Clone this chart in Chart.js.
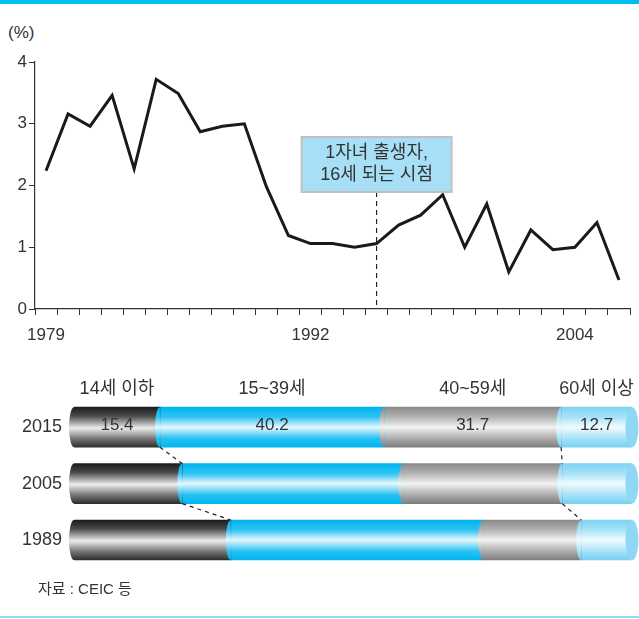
<!DOCTYPE html>
<html>
<head>
<meta charset="utf-8">
<script src="https://cdn.jsdelivr.net/npm/chart.js@4.4.0/dist/chart.umd.min.js"></script>
<style>
  html, body { margin: 0; padding: 0; background: #fff; }
  #page { position: relative; width: 639px; height: 619px; overflow: hidden; }
  #topbar { position: absolute; left: 0; top: 0; width: 639px; height: 4px; background: #00bef2; }
  #bottomline { position: absolute; left: 0; top: 616px; width: 639px; height: 2px; background: #93dcf5; }
  #unit { position: absolute; left: 8px; top: 23px; font: 17px "Liberation Sans", "Noto Sans CJK KR", sans-serif; color: #333; }
  #source { position: absolute; left: 38px; top: 577px; font: 15px "Liberation Sans", "Noto Sans CJK KR", sans-serif; color: #333; }
  #lineChart { position: absolute; left: 0; top: 0; }
  #barChart { position: absolute; left: 0; top: 360px; }
</style>
</head>
<body>
<div id="page">
  <div id="topbar"></div>
  <div id="unit">(%)</div>
  <canvas id="lineChart" width="639" height="350"></canvas>
  <canvas id="barChart" width="639" height="231"></canvas>
  <div id="source">자료 : CEIC 등</div>
  <div id="bottomline"></div>
</div>

<script>
const FONT = '"Liberation Sans", "Noto Sans CJK KR", sans-serif';
const TEXT = '#333';

// line chart data
const xLabels = ['1979', '', '', '', '', '', '', '', '', '', '', '', '1992', '', '', '',
  '', '', '', '', '', '', '', '', '2004', '', ''];
const growthRate = [2.24, 3.16, 2.96, 3.46, 2.27, 3.72, 3.49, 2.87, 2.96, 3.00, 1.98, 1.19,
  1.06, 1.06, 1.00, 1.06, 1.36, 1.52, 1.85, 1.00, 1.70, 0.60, 1.28, 0.96, 1.00, 1.40, 0.47];
const yTicks = [0, 1, 2, 3, 4];
const markerIndex = 15;
const noteLines = ['1자녀 출생자,', '16세 되는 시점'];

// bar chart data
const periods = ['2015', '2005', '1989'];
const ageGroups = ['14세 이하', '15~39세', '40~59세', '60세 이상'];
const share0to14 = [15.4, 19.4, 28.1];
const share15to39 = [40.2, 39.6, 45.2];
const share40to59 = [31.7, 28.5, 17.6];
const share60plus = [12.7, 12.5, 9.1];

/* marker line + note box */
const markerPlugin = {
  id: 'marker',
  afterDatasetsDraw(chart) {
    const { ctx, scales: { x, y } } = chart;
    const px = x.getPixelForValue(markerIndex);
    const boxW = 150, boxTop = 137, boxH = 55;
    ctx.save();
    ctx.strokeStyle = '#222';
    ctx.lineWidth = 1.2;
    ctx.setLineDash([5, 4]);
    ctx.beginPath();
    ctx.moveTo(px, boxTop + boxH);
    ctx.lineTo(px, y.getPixelForValue(0));
    ctx.stroke();
    ctx.setLineDash([]);
    ctx.fillStyle = '#a7e0f6';
    ctx.fillRect(px - boxW / 2, boxTop, boxW, boxH);
    ctx.strokeStyle = '#c0c0c0';
    ctx.lineWidth = 2;
    ctx.strokeRect(px - boxW / 2, boxTop, boxW, boxH);
    ctx.fillStyle = TEXT;
    ctx.font = '18px ' + FONT;
    ctx.textAlign = 'center';
    ctx.textBaseline = 'middle';
    noteLines.forEach((t, i) => ctx.fillText(t, px, boxTop + 16 + i * 22));
    ctx.restore();
  }
};

new Chart(document.getElementById('lineChart'), {
  type: 'line',
  data: {
    labels: xLabels,
    datasets: [{
      data: growthRate,
      borderColor: '#1a1a1a',
      borderWidth: 3,
      pointRadius: 0,
      tension: 0,
      fill: false
    }]
  },
  options: {
    responsive: false,
    animation: false,
    layout: { padding: { top: 62, right: 9, left: 0, bottom: 0 } },
    plugins: { legend: { display: false }, tooltip: { enabled: false } },
    scales: {
      x: {
        offset: true,
        grid: { offset: true, drawOnChartArea: false, tickLength: 6, color: '#333', lineWidth: 1 },
        border: { color: '#333', width: 1.2 },
        ticks: { autoSkip: false, maxRotation: 0, padding: 10, color: TEXT, font: { family: FONT, size: 17 } },
        afterFit(s) { s.height = 41; }
      },
      y: {
        min: 0, max: 4,
        afterBuildTicks(s) { s.ticks = yTicks.map(v => ({ value: v })); },
        grid: { drawOnChartArea: false, tickLength: 6, color: '#333', lineWidth: 1 },
        border: { color: '#333', width: 1.2 },
        ticks: { padding: 2, color: TEXT, font: { family: FONT, size: 17 } },
        afterFit(s) { s.width = 35; }
      }
    }
  },
  plugins: [markerPlugin]
});

/* cylinder look for the stacked bars */
function cylinder(stops) {
  return (c) => {
    const ch = c.chart;
    const ys = ch.scales.y;
    if (!ch.chartArea || !ys) return stops[0][1];
    const yc = ys.getPixelForValue(c.dataIndex);
    const g = ch.ctx.createLinearGradient(0, yc - 20, 0, yc + 20);
    stops.forEach(([o, col]) => g.addColorStop(o, col));
    return g;
  };
}

const darkStops = [[0, '#1c1c1c'], [0.22, '#4a4a4a'], [0.52, '#ececec'], [0.8, '#707070'], [1, '#2e2e2e']];
const blueStops = [[0, '#00b4ee'], [0.25, '#2fc4f3'], [0.5, '#e6f8fe'], [0.78, '#28c2f2'], [1, '#00b6ef']];
const grayStops = [[0, '#8a8a8a'], [0.25, '#b4b4b4'], [0.5, '#f2f2f2'], [0.8, '#a8a8a8'], [1, '#7e7e7e']];
const lightStops = [[0, '#7dd2f4'], [0.25, '#a8e2f8'], [0.5, '#f0fbff'], [0.8, '#a2e0f8'], [1, '#78d0f3']];

const cylinderPlugin = {
  id: 'cylinder',
  afterDatasetsDraw(chart) {
    const { ctx } = chart;
    const metas = chart.data.datasets.map((d, i) => chart.getDatasetMeta(i));
    const rx = 5;
    ctx.save();
    // rounded left edges
    metas.forEach(meta => {
      meta.data.forEach(el => {
        const h = el.height / 2;
        ctx.fillStyle = el.options.backgroundColor;
        ctx.beginPath();
        ctx.ellipse(el.base, el.y, rx, h, 0, Math.PI / 2, Math.PI * 1.5);
        ctx.fill();
      });
    });
    // end faces
    metas[metas.length - 1].data.forEach(el => {
      ctx.fillStyle = '#8fd7f4';
      ctx.beginPath();
      ctx.ellipse(el.x, el.y, rx + 1.5, el.height / 2, 0, 0, Math.PI * 2);
      ctx.fill();
    });
    // dashed connectors
    ctx.strokeStyle = '#222';
    ctx.lineWidth = 1.2;
    ctx.setLineDash([4, 4]);
    [0, 2].forEach(k => {
      const els = metas[k].data;
      for (let i = 0; i < els.length - 1; i++) {
        ctx.beginPath();
        ctx.moveTo(els[i].x, els[i].y + els[i].height / 2);
        ctx.lineTo(els[i + 1].x, els[i + 1].y - els[i + 1].height / 2);
        ctx.stroke();
      }
    });
    ctx.setLineDash([]);
    // values on first row and group names above it
    ctx.fillStyle = TEXT;
    ctx.textAlign = 'center';
    ctx.textBaseline = 'middle';
    metas.forEach((meta, d) => {
      const el = meta.data[0];
      const cx = (el.base + el.x) / 2;
      ctx.font = '17px ' + FONT;
      ctx.fillText(chart.data.datasets[d].data[0].toFixed(1), cx, el.y - 2);
      ctx.font = '18px ' + FONT;
      ctx.fillText(ageGroups[d], cx, el.y - el.height / 2 - 18);
    });
    ctx.restore();
  }
};

new Chart(document.getElementById('barChart'), {
  type: 'bar',
  data: {
    labels: periods,
    datasets: [
      { data: share0to14, backgroundColor: cylinder(darkStops) },
      { data: share15to39, backgroundColor: cylinder(blueStops) },
      { data: share40to59, backgroundColor: cylinder(grayStops) },
      { data: share60plus, backgroundColor: cylinder(lightStops) }
    ]
  },
  options: {
    indexAxis: 'y',
    responsive: false,
    animation: false,
    layout: { padding: { top: 39, right: 7, left: 0, bottom: 13 } },
    datasets: { bar: { barThickness: 40, borderWidth: 0, borderSkipped: false } },
    plugins: { legend: { display: false }, tooltip: { enabled: false } },
    scales: {
      x: { stacked: true, min: 0, max: 100, display: false },
      y: {
        stacked: true,
        grid: { display: false, drawTicks: false },
        border: { display: false },
        ticks: { padding: 12, color: TEXT, font: { family: FONT, size: 18 } },
        afterFit(s) { s.width = 74; }
      }
    }
  },
  plugins: [cylinderPlugin]
});
</script>
</body>
</html>
